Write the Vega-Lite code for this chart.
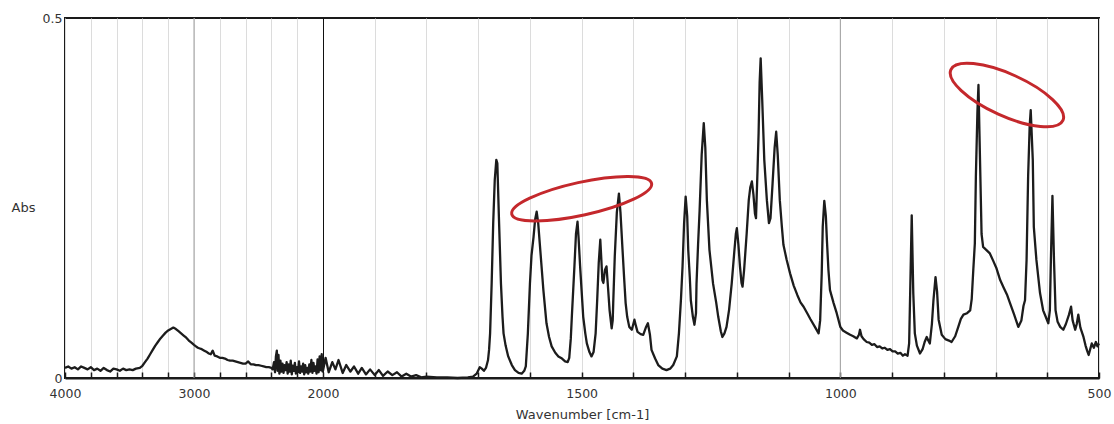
{
  "$schema": "https://vega.github.io/schema/vega-lite/v6.json",
  "width": 1034,
  "height": 360,
  "autosize": "none",
  "padding": {"left": 65, "top": 18, "right": 15, "bottom": 46},
  "background": "white",
  "config": {
    "view": {"stroke": "#1a1a1a", "strokeWidth": 2},
    "font": "DejaVu Sans"
  },
  "encoding": {
    "x": {
      "field": "wn", "type": "quantitative",
      "scale": {"domain": [4000, 2000, 500], "range": [0, 258, 1034], "zero": false, "nice": false},
      "axis": {
        "title": "Wavenumber [cm-1]",
        "values": [4000,3800,3600,3400,3200,3000,2800,2600,2400,2200,2000,1900,1800,1700,1600,1500,1400,1300,1200,1100,1000,900,800,700,600,500],
        "format": "d",
        "labelExpr": "indexof([4000,3000,2000,1500,1000,500], datum.value) >= 0 ? datum.label : ''",
        "labelFlush": false,
        "labelOverlap": false,
        "labelFontSize": 12.5,
        "labelColor": "#333",
        "labelPadding": 15,
        "tickSize": -6,
        "tickColor": "#1a1a1a",
        "tickWidth": 1.5,
        "domainColor": "#1a1a1a",
        "domainWidth": 2,
        "grid": true,
        "gridColor": {"condition": {"test": "datum.value === 2000", "value": "#111"}, "value": "#dcdcdc"},
        "gridWidth": 1,
        "titleFontSize": 13,
        "titleFontWeight": "normal",
        "titleColor": "#333",
        "titlePadding": 9
      }
    },
    "y": {
      "field": "a", "type": "quantitative",
      "scale": {"domain": [0, 0.5], "nice": false, "zero": true},
      "axis": {
        "title": "Abs",
        "values": [0, 0.5],
        "format": "~g",
        "grid": false,
        "ticks": false,
        "domain": false,
        "labelPadding": 3,
        "labelFontSize": 12.5,
        "labelColor": "#333",
        "titleAngle": 0,
        "titleAlign": "left",
        "titleBaseline": "middle",
        "titleX": -54,
        "titleY": 189,
        "titleFontSize": 13,
        "titleFontWeight": "normal",
        "titleColor": "#333"
      }
    }
  },
  "layer": [
    {
      "data": {"values": [{"wn": 3000, "a": 0}, {"wn": 1000, "a": 0}]},
      "mark": {"type": "rule", "color": "#a0a0a0", "strokeWidth": 1},
      "encoding": {"y": {"value": 0}, "y2": {"value": 360}}
    },
    {
      "data": {"values": [
        {"wn":4000,"a":0.014},{"wn":3975,"a":0.016},{"wn":3950,"a":0.013},{"wn":3925,"a":0.015},{"wn":3900,"a":0.012},{"wn":3875,"a":0.016},{"wn":3850,"a":0.014},{"wn":3825,"a":0.012},{"wn":3800,"a":0.015},{"wn":3775,"a":0.011},{"wn":3750,"a":0.013},{"wn":3725,"a":0.010},{"wn":3700,"a":0.014},{"wn":3675,"a":0.011},{"wn":3650,"a":0.009},{"wn":3625,"a":0.013},{"wn":3600,"a":0.012},{"wn":3575,"a":0.010},{"wn":3550,"a":0.013},{"wn":3525,"a":0.011},{"wn":3500,"a":0.012},{"wn":3475,"a":0.011},{"wn":3450,"a":0.013},{"wn":3420,"a":0.014},
        {"wn":3400,"a":0.017},{"wn":3380,"a":0.022},{"wn":3360,"a":0.027},{"wn":3340,"a":0.033},{"wn":3320,"a":0.039},{"wn":3300,"a":0.045},{"wn":3280,"a":0.050},{"wn":3260,"a":0.055},{"wn":3240,"a":0.059},{"wn":3220,"a":0.063},{"wn":3200,"a":0.066},{"wn":3180,"a":0.068},{"wn":3160,"a":0.070},{"wn":3140,"a":0.068},{"wn":3120,"a":0.065},{"wn":3100,"a":0.062},{"wn":3080,"a":0.059},{"wn":3060,"a":0.056},{"wn":3040,"a":0.052},{"wn":3020,"a":0.049},{"wn":3000,"a":0.046},{"wn":2985,"a":0.044},{"wn":2970,"a":0.042},{"wn":2955,"a":0.041},{"wn":2940,"a":0.040},{"wn":2920,"a":0.038},{"wn":2900,"a":0.036},{"wn":2885,"a":0.034},{"wn":2870,"a":0.033},{"wn":2855,"a":0.038},{"wn":2840,"a":0.031},{"wn":2820,"a":0.030},{"wn":2800,"a":0.028},{"wn":2780,"a":0.028},{"wn":2760,"a":0.027},{"wn":2740,"a":0.025},{"wn":2720,"a":0.024},{"wn":2700,"a":0.024},{"wn":2680,"a":0.023},{"wn":2660,"a":0.022},{"wn":2640,"a":0.021},{"wn":2620,"a":0.020},{"wn":2600,"a":0.020},{"wn":2580,"a":0.023},{"wn":2560,"a":0.019},{"wn":2540,"a":0.019},{"wn":2520,"a":0.018},{"wn":2500,"a":0.018},{"wn":2480,"a":0.017},{"wn":2460,"a":0.016},{"wn":2440,"a":0.015},{"wn":2420,"a":0.015},
        {"wn":2400,"a":0.014},{"wn":2390,"a":0.012},{"wn":2380,"a":0.022},{"wn":2372,"a":0.008},{"wn":2365,"a":0.030},{"wn":2358,"a":0.038},{"wn":2352,"a":0.010},{"wn":2345,"a":0.032},{"wn":2338,"a":0.006},{"wn":2330,"a":0.024},{"wn":2322,"a":0.009},{"wn":2314,"a":0.020},{"wn":2306,"a":0.007},{"wn":2298,"a":0.018},{"wn":2290,"a":0.011},{"wn":2282,"a":0.022},{"wn":2274,"a":0.006},{"wn":2266,"a":0.019},{"wn":2258,"a":0.009},{"wn":2250,"a":0.024},{"wn":2242,"a":0.005},{"wn":2234,"a":0.017},{"wn":2226,"a":0.010},{"wn":2218,"a":0.021},{"wn":2210,"a":0.006},{"wn":2202,"a":0.015},{"wn":2194,"a":0.008},{"wn":2186,"a":0.023},{"wn":2178,"a":0.007},{"wn":2170,"a":0.016},{"wn":2162,"a":0.009},{"wn":2154,"a":0.020},{"wn":2146,"a":0.005},{"wn":2138,"a":0.018},{"wn":2130,"a":0.008},{"wn":2122,"a":0.014},{"wn":2114,"a":0.006},{"wn":2106,"a":0.019},{"wn":2098,"a":0.009},{"wn":2090,"a":0.025},{"wn":2082,"a":0.007},{"wn":2074,"a":0.021},{"wn":2066,"a":0.010},{"wn":2058,"a":0.016},{"wn":2050,"a":0.006},{"wn":2042,"a":0.026},{"wn":2034,"a":0.008},{"wn":2026,"a":0.030},{"wn":2018,"a":0.011},{"wn":2010,"a":0.033},{"wn":2004,"a":0.009},
        {"wn":2000,"a":0.010},{"wn":1995,"a":0.028},{"wn":1989,"a":0.008},{"wn":1982,"a":0.022},{"wn":1976,"a":0.012},{"wn":1970,"a":0.025},{"wn":1962,"a":0.007},{"wn":1955,"a":0.018},{"wn":1947,"a":0.009},{"wn":1940,"a":0.016},{"wn":1932,"a":0.006},{"wn":1925,"a":0.014},{"wn":1917,"a":0.005},{"wn":1909,"a":0.012},{"wn":1900,"a":0.004},{"wn":1892,"a":0.011},{"wn":1884,"a":0.003},{"wn":1875,"a":0.009},{"wn":1866,"a":0.004},{"wn":1857,"a":0.008},{"wn":1848,"a":0.002},{"wn":1839,"a":0.006},{"wn":1830,"a":0.002},{"wn":1820,"a":0.004},{"wn":1810,"a":0.001},{"wn":1800,"a":0.002},{"wn":1780,"a":0.001},{"wn":1760,"a":0.001},{"wn":1740,"a":0.000},{"wn":1720,"a":0.001},{"wn":1710,"a":0.002},
        {"wn":1703,"a":0.006},{"wn":1697,"a":0.015},{"wn":1693,"a":0.013},{"wn":1689,"a":0.010},{"wn":1685,"a":0.014},{"wn":1681,"a":0.025},{"wn":1679,"a":0.039},{"wn":1677,"a":0.062},{"wn":1674,"a":0.131},{"wn":1671,"a":0.215},{"wn":1668,"a":0.275},{"wn":1665,"a":0.303},{"wn":1663,"a":0.298},{"wn":1660,"a":0.224},{"wn":1656,"a":0.131},{"wn":1653,"a":0.085},{"wn":1651,"a":0.062},{"wn":1647,"a":0.045},{"wn":1642,"a":0.030},{"wn":1635,"a":0.018},{"wn":1629,"a":0.011},{"wn":1622,"a":0.007},{"wn":1616,"a":0.006},{"wn":1611,"a":0.010},{"wn":1608,"a":0.016},{"wn":1604,"a":0.062},{"wn":1600,"a":0.131},{"wn":1597,"a":0.170},{"wn":1593,"a":0.196},{"wn":1590,"a":0.220},{"wn":1587,"a":0.231},{"wn":1584,"a":0.215},{"wn":1581,"a":0.187},{"wn":1577,"a":0.150},{"wn":1574,"a":0.122},{"wn":1568,"a":0.076},{"wn":1563,"a":0.057},{"wn":1558,"a":0.044},{"wn":1551,"a":0.035},{"wn":1545,"a":0.030},{"wn":1538,"a":0.027},{"wn":1532,"a":0.023},{"wn":1527,"a":0.022},{"wn":1524,"a":0.028},{"wn":1521,"a":0.055},{"wn":1519,"a":0.085},{"wn":1514,"a":0.155},{"wn":1511,"a":0.200},{"wn":1508,"a":0.217},{"wn":1506,"a":0.195},{"wn":1503,"a":0.155},{"wn":1500,"a":0.120},{"wn":1497,"a":0.085},{"wn":1493,"a":0.062},{"wn":1490,"a":0.048},{"wn":1485,"a":0.036},{"wn":1481,"a":0.030},{"wn":1477,"a":0.036},{"wn":1473,"a":0.062},{"wn":1470,"a":0.108},{"wn":1467,"a":0.160},{"wn":1464,"a":0.192},{"wn":1462,"a":0.165},{"wn":1460,"a":0.136},{"wn":1458,"a":0.132},{"wn":1455,"a":0.150},{"wn":1452,"a":0.155},{"wn":1449,"a":0.125},{"wn":1446,"a":0.094},{"wn":1442,"a":0.069},{"wn":1440,"a":0.080},{"wn":1439,"a":0.104},{"wn":1436,"a":0.169},{"wn":1432,"a":0.230},{"wn":1428,"a":0.256},{"wn":1425,"a":0.230},{"wn":1421,"a":0.178},{"wn":1418,"a":0.140},{"wn":1415,"a":0.104},{"wn":1412,"a":0.085},{"wn":1408,"a":0.071},{"wn":1403,"a":0.067},{"wn":1398,"a":0.081},{"wn":1395,"a":0.072},{"wn":1392,"a":0.064},{"wn":1386,"a":0.061},{"wn":1381,"a":0.060},{"wn":1376,"a":0.070},{"wn":1372,"a":0.076},{"wn":1368,"a":0.060},{"wn":1365,"a":0.039},{"wn":1358,"a":0.027},{"wn":1352,"a":0.018},{"wn":1344,"a":0.013},{"wn":1336,"a":0.011},{"wn":1329,"a":0.013},{"wn":1323,"a":0.018},{"wn":1316,"a":0.030},{"wn":1312,"a":0.062},{"wn":1308,"a":0.110},{"wn":1305,"a":0.155},{"wn":1302,"a":0.215},{"wn":1299,"a":0.252},{"wn":1296,"a":0.225},{"wn":1294,"a":0.178},{"wn":1291,"a":0.140},{"wn":1289,"a":0.108},{"wn":1285,"a":0.085},{"wn":1282,"a":0.074},{"wn":1279,"a":0.090},{"wn":1278,"a":0.131},{"wn":1275,"a":0.185},{"wn":1272,"a":0.233},{"wn":1268,"a":0.310},{"wn":1264,"a":0.354},{"wn":1261,"a":0.320},{"wn":1258,"a":0.247},{"wn":1253,"a":0.178},{"wn":1246,"a":0.131},{"wn":1240,"a":0.105},{"wn":1236,"a":0.085},{"wn":1231,"a":0.065},{"wn":1228,"a":0.057},{"wn":1224,"a":0.062},{"wn":1220,"a":0.071},{"wn":1215,"a":0.095},{"wn":1210,"a":0.131},{"wn":1205,"a":0.175},{"wn":1202,"a":0.200},{"wn":1200,"a":0.208},{"wn":1197,"a":0.185},{"wn":1194,"a":0.155},{"wn":1191,"a":0.132},{"wn":1189,"a":0.127},{"wn":1186,"a":0.150},{"wn":1181,"a":0.201},{"wn":1177,"a":0.247},{"wn":1174,"a":0.265},{"wn":1171,"a":0.273},{"wn":1168,"a":0.255},{"wn":1165,"a":0.228},{"wn":1163,"a":0.222},{"wn":1160,"a":0.290},{"wn":1158,"a":0.340},{"wn":1156,"a":0.410},{"wn":1154,"a":0.444},{"wn":1151,"a":0.386},{"wn":1147,"a":0.303},{"wn":1142,"a":0.247},{"wn":1138,"a":0.215},{"wn":1135,"a":0.222},{"wn":1131,"a":0.270},{"wn":1127,"a":0.320},{"wn":1124,"a":0.342},{"wn":1121,"a":0.310},{"wn":1117,"a":0.247},{"wn":1113,"a":0.210},{"wn":1110,"a":0.185},{"wn":1104,"a":0.165},{"wn":1097,"a":0.145},{"wn":1090,"a":0.128},{"wn":1083,"a":0.115},{"wn":1077,"a":0.105},{"wn":1071,"a":0.099},{"wn":1064,"a":0.090},{"wn":1058,"a":0.082},{"wn":1050,"a":0.072},{"wn":1042,"a":0.062},{"wn":1039,"a":0.080},{"wn":1036,"a":0.145},{"wn":1034,"a":0.210},{"wn":1031,"a":0.246},{"wn":1028,"a":0.225},{"wn":1026,"a":0.192},{"wn":1023,"a":0.150},{"wn":1020,"a":0.122},{"wn":1013,"a":0.104},{"wn":1007,"a":0.090},{"wn":1000,"a":0.071},{"wn":995,"a":0.066},{"wn":988,"a":0.063},{"wn":981,"a":0.060},{"wn":975,"a":0.058},{"wn":968,"a":0.055},{"wn":964,"a":0.060},{"wn":962,"a":0.067},{"wn":959,"a":0.058},{"wn":955,"a":0.054},{"wn":949,"a":0.050},{"wn":944,"a":0.049},{"wn":939,"a":0.046},{"wn":934,"a":0.047},{"wn":929,"a":0.043},{"wn":924,"a":0.044},{"wn":919,"a":0.041},{"wn":914,"a":0.042},{"wn":909,"a":0.039},{"wn":904,"a":0.040},{"wn":899,"a":0.037},{"wn":894,"a":0.037},{"wn":889,"a":0.034},{"wn":884,"a":0.035},{"wn":879,"a":0.031},{"wn":875,"a":0.033},{"wn":870,"a":0.031},{"wn":867,"a":0.048},{"wn":865,"a":0.118},{"wn":862,"a":0.226},{"wn":859,"a":0.118},{"wn":856,"a":0.062},{"wn":852,"a":0.045},{"wn":846,"a":0.034},{"wn":841,"a":0.040},{"wn":837,"a":0.050},{"wn":833,"a":0.057},{"wn":830,"a":0.052},{"wn":827,"a":0.048},{"wn":823,"a":0.075},{"wn":820,"a":0.108},{"wn":816,"a":0.140},{"wn":813,"a":0.120},{"wn":810,"a":0.081},{"wn":804,"a":0.060},{"wn":797,"a":0.054},{"wn":790,"a":0.052},{"wn":785,"a":0.050},{"wn":778,"a":0.058},{"wn":772,"a":0.071},{"wn":767,"a":0.082},{"wn":762,"a":0.088},{"wn":755,"a":0.090},{"wn":749,"a":0.094},{"wn":746,"a":0.110},{"wn":743,"a":0.150},{"wn":740,"a":0.187},{"wn":738,"a":0.280},{"wn":735,"a":0.370},{"wn":733,"a":0.407},{"wn":730,"a":0.303},{"wn":727,"a":0.200},{"wn":724,"a":0.182},{"wn":718,"a":0.178},{"wn":711,"a":0.173},{"wn":704,"a":0.162},{"wn":698,"a":0.152},{"wn":691,"a":0.136},{"wn":684,"a":0.125},{"wn":678,"a":0.116},{"wn":672,"a":0.104},{"wn":664,"a":0.088},{"wn":656,"a":0.071},{"wn":650,"a":0.080},{"wn":646,"a":0.100},{"wn":643,"a":0.108},{"wn":640,"a":0.164},{"wn":637,"a":0.280},{"wn":634,"a":0.350},{"wn":632,"a":0.372},{"wn":628,"a":0.303},{"wn":626,"a":0.210},{"wn":621,"a":0.164},{"wn":614,"a":0.118},{"wn":608,"a":0.094},{"wn":603,"a":0.085},{"wn":598,"a":0.076},{"wn":595,"a":0.094},{"wn":593,"a":0.164},{"wn":590,"a":0.253},{"wn":587,"a":0.164},{"wn":584,"a":0.094},{"wn":580,"a":0.078},{"wn":575,"a":0.071},{"wn":569,"a":0.067},{"wn":564,"a":0.075},{"wn":558,"a":0.088},{"wn":554,"a":0.099},{"wn":551,"a":0.080},{"wn":546,"a":0.067},{"wn":543,"a":0.075},{"wn":540,"a":0.088},{"wn":536,"a":0.070},{"wn":530,"a":0.057},{"wn":526,"a":0.045},{"wn":523,"a":0.038},{"wn":520,"a":0.032},{"wn":517,"a":0.040},{"wn":514,"a":0.048},{"wn":510,"a":0.042},{"wn":506,"a":0.050},{"wn":503,"a":0.044},{"wn":500,"a":0.048}
      ]},
      "mark": {"type": "line", "color": "#1c1c1c", "strokeWidth": 2.3, "strokeJoin": "round"}
    },
    {
      "data": {"values": [{"wn": 1500, "a": 0.249}]},
      "mark": {"type": "point", "filled": false, "fill": "transparent", "stroke": "#c4282c", "strokeWidth": 3, "opacity": 1, "size": 20506, "angle": 347.6,
        "shape": "M -1 0 C -1 -0.127 -0.552 -0.23 0 -0.23 C 0.552 -0.23 1 -0.127 1 0 C 1 0.127 0.552 0.23 0 0.23 C -0.552 0.23 -1 0.127 -1 0 Z"}
    },
    {
      "data": {"values": [{"wn": 678, "a": 0.393}]},
      "mark": {"type": "point", "filled": false, "fill": "transparent", "stroke": "#c4282c", "strokeWidth": 3, "opacity": 1, "size": 15129, "angle": 24.4,
        "shape": "M -1 0 C -1 -0.188 -0.552 -0.34 0 -0.34 C 0.552 -0.34 1 -0.188 1 0 C 1 0.188 0.552 0.34 0 0.34 C -0.552 0.34 -1 0.188 -1 0 Z"}
    }
  ]
}
